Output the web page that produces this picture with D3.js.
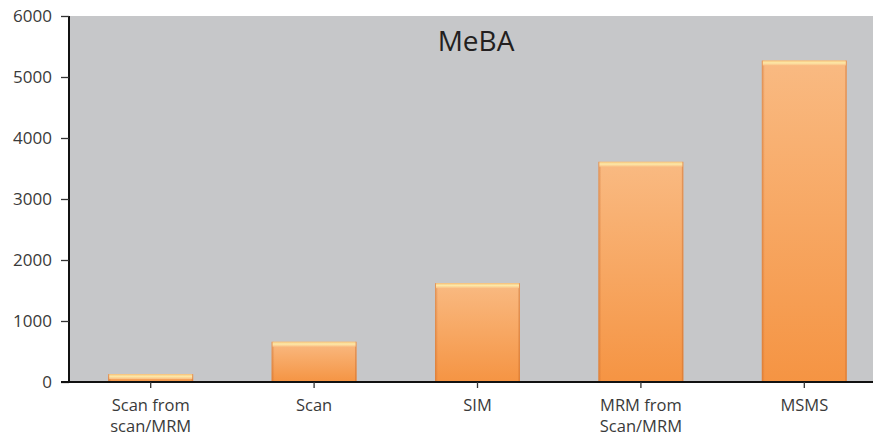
<!DOCTYPE html>
<html><head><meta charset="utf-8">
<script src="https://cdn.jsdelivr.net/npm/d3@7"></script>
<style>body{margin:0;background:#fff}svg{display:block}</style>
</head><body>
<svg id="c" width="873" height="436"></svg>
<script>
const categories = [["Scan from","scan/MRM"],["Scan"],["SIM"],["MRM from","Scan/MRM"],["MSMS"]];
const values = [130, 660, 1620, 3610, 5270];
const yTicks = [0,1000,2000,3000,4000,5000,6000];
const title = "MeBA";

const W = 873, H = 436;
const m = {left:69, top:16, bottom:382, right:886};
const svg = d3.select("#c");
const font = "'Open Sans', 'DejaVu Sans', sans-serif";

const x = d3.scaleBand().domain(d3.range(categories.length)).range([m.left, m.right]).paddingInner(0.48).paddingOuter(0.24);
const y = d3.scaleLinear().domain([0,6000]).range([m.bottom, m.top]);

const defs = svg.append("defs");
const g1 = defs.append("linearGradient").attr("id","barg").attr("x1",0).attr("y1",0).attr("x2",0).attr("y2",1);
g1.append("stop").attr("offset","0%").attr("stop-color","#f9ba82");
g1.append("stop").attr("offset","100%").attr("stop-color","#f59443");
const g2 = defs.append("linearGradient").attr("id","edge").attr("x1",0).attr("y1",0).attr("x2",1).attr("y2",0);
g2.append("stop").attr("offset","0%").attr("stop-color","#c8692a").attr("stop-opacity",0.55);
g2.append("stop").attr("offset","100%").attr("stop-color","#c8692a").attr("stop-opacity",0);
const g3 = defs.append("linearGradient").attr("id","hl").attr("x1",0).attr("y1",0).attr("x2",0).attr("y2",1);
g3.append("stop").attr("offset","0%").attr("stop-color","#f6c178");
g3.append("stop").attr("offset","45%").attr("stop-color","#fde9a8");
g3.append("stop").attr("offset","100%").attr("stop-color","#f9bf85");

// plot background
svg.append("rect").attr("x",m.left).attr("y",m.top).attr("width",W-m.left).attr("height",m.bottom-m.top).attr("fill","#c6c7c9");

// title
svg.append("text").attr("x",476).attr("y",51).attr("text-anchor","middle")
  .attr("font-family",font).attr("font-size",28).attr("fill","#231f20").text(title);

// bars
const bars = svg.append("g").selectAll("g").data(values).join("g");
bars.append("rect").attr("x",(d,i)=>x(i)).attr("y",d=>y(d)).attr("width",x.bandwidth())
  .attr("height",d=>y(0)-y(d)).attr("fill","url(#barg)");
bars.append("rect").attr("x",(d,i)=>x(i)).attr("y",d=>y(d)).attr("width",3)
  .attr("height",d=>y(0)-y(d)).attr("fill","url(#edge)");
bars.append("rect").attr("x",(d,i)=>x(i)+x.bandwidth()-1.5).attr("y",d=>y(d)).attr("width",1.5)
  .attr("height",d=>y(0)-y(d)).attr("fill","#c8692a").attr("opacity",0.45);
bars.append("rect").attr("x",(d,i)=>x(i)+1).attr("y",d=>y(d)).attr("width",x.bandwidth()-2)
  .attr("height",d=>Math.min(5,y(0)-y(d))).attr("fill","url(#hl)");

// y axis
const ya = svg.append("g").attr("transform",`translate(${m.left},0)`)
  .call(d3.axisLeft(y).tickValues(yTicks).tickSize(8).tickPadding(9).tickFormat(d3.format("d")));
ya.select(".domain").attr("stroke","#111").attr("stroke-width",2).attr("d",`M0,${m.top}V${m.bottom}`);
ya.selectAll(".tick line").attr("stroke","#333").attr("stroke-width",1.3);
ya.selectAll(".tick text").attr("font-family",font).attr("font-size",17).attr("fill","#3a3a3a");

// x axis
const xa = svg.append("g").attr("transform",`translate(0,${m.bottom})`)
  .call(d3.axisBottom(x).tickSize(6).tickFormat(""));
xa.select(".domain").attr("stroke","#111").attr("stroke-width",2).attr("d",`M${m.left-8},0H${W}`);
xa.selectAll(".tick line").attr("stroke","#333").attr("stroke-width",1.3);
xa.selectAll(".tick").each(function(d){
  const t = d3.select(this).append("text").attr("font-family",font).attr("font-size",16.5)
    .attr("fill","#3a3a3a").attr("text-anchor","middle");
  categories[d].forEach((line,k)=>t.append("tspan").attr("x",0).attr("y",29+k*21).text(line));
});
</script>
</body></html>
